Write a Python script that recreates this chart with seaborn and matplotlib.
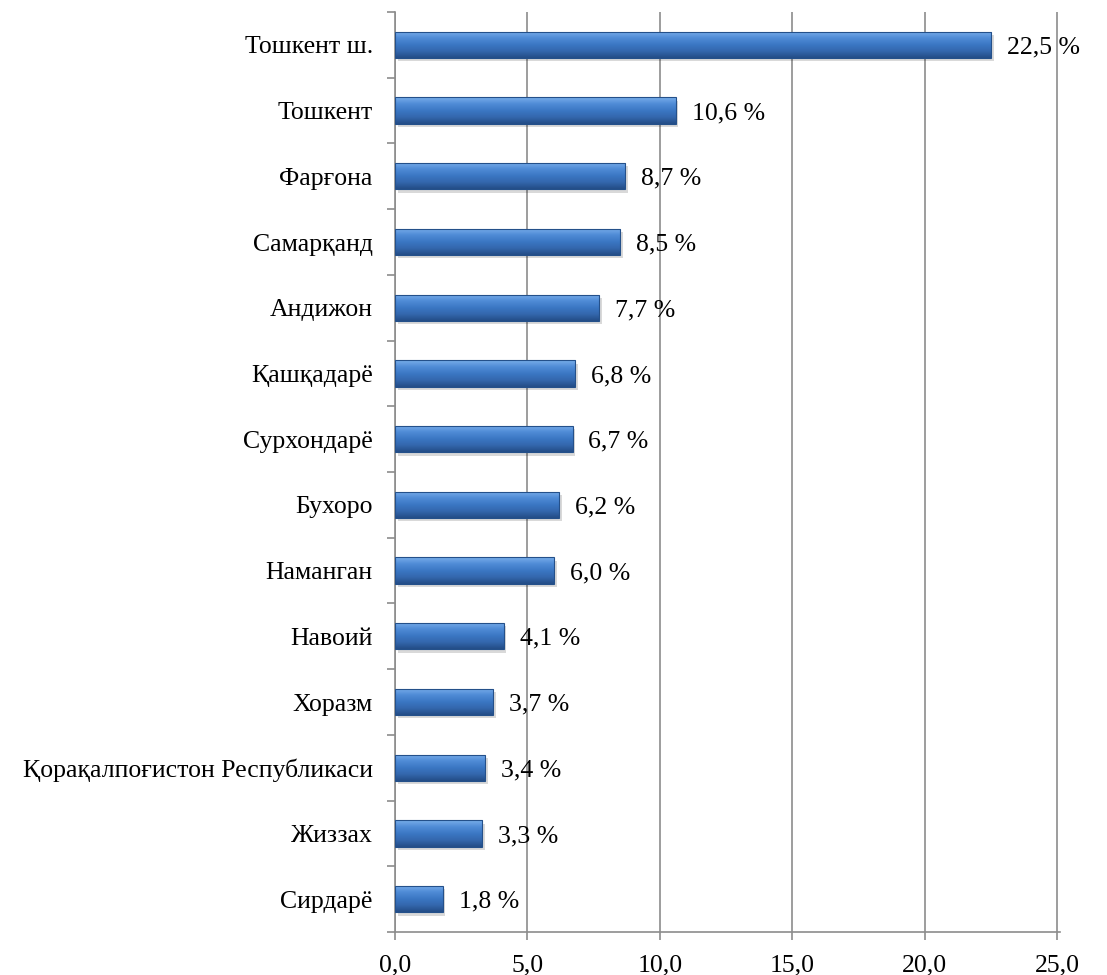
import numpy as np
import pandas as pd
import seaborn as sns
import matplotlib.pyplot as plt
from matplotlib.colors import LinearSegmentedColormap

# data
regions = [
    "Тошкент ш.", "Тошкент", "Фарғона", "Самарқанд", "Андижон", "Қашқадарё",
    "Сурхондарё", "Бухоро", "Наманган", "Навоий", "Хоразм",
    "Қорақалпоғистон Республикаси", "Жиззах", "Сирдарё",
]
shares = [22.5, 10.6, 8.7, 8.5, 7.7, 6.8, 6.7, 6.2, 6.0, 4.1, 3.7, 3.4, 3.3, 1.8]
xticks = [0, 5, 10, 15, 20, 25]

df = pd.DataFrame({"region": regions, "share": shares})

sns.set_theme(style="white")
plt.rcParams["font.family"] = ["Liberation Serif", "DejaVu Serif"]

fig = plt.figure(figsize=(11.07, 9.75), dpi=100)
ax = fig.add_axes([395 / 1107, 1 - 932 / 975, (1060 - 395) / 1107, (932 - 12) / 975])

sns.barplot(data=df, x="share", y="region", orient="h", color="#3b73bd",
            width=0.4, edgecolor="#24508a", linewidth=0.8, ax=ax, zorder=3)

# gradient fill on each bar (rough imitation of the bevelled bars)
cmap = LinearSegmentedColormap.from_list(
    "bevel", ["#79aeeb", "#4f8bd6", "#3b77c4", "#3467ad", "#234d86"])
grad = np.linspace(0, 1, 64).reshape(-1, 1)
for p in ax.patches:
    x0, y0 = p.get_x(), p.get_y()
    w, h = p.get_width(), p.get_height()
    # soft shadow below/right
    ax.add_patch(plt.Rectangle((x0 + 0.1, y0 + 0.05), w, h, color="#000000",
                               alpha=0.15, zorder=2, lw=0))
    im = ax.imshow(grad, cmap=cmap, aspect="auto", extent=(x0, x0 + w, y0 + h, y0),
                   zorder=4, interpolation="bicubic")
    im.set_clip_path(p)
    p.set_zorder(5)
    p.set_facecolor("none")

for i, v in enumerate(shares):
    ax.text(v + 0.6, i + 0.04, f"{v:.1f} %".replace(".", ","), va="center", ha="left",
            fontsize=18.5, color="black", zorder=6)

ax.set_xlim(0, 25.1)
ax.set_ylim(len(regions) - 0.5, -0.5)
ax.set_xticks(xticks)
ax.set_xticklabels([f"{t:.1f}".replace(".", ",") for t in xticks], fontsize=18.5,
                   color="black")
ax.set_yticks(range(len(regions)))
ax.set_yticklabels(regions, fontsize=18.5, color="black")
ax.set_xlabel("")
ax.set_ylabel("")

ax.grid(axis="x", color="#8c8c8c", linewidth=1.2, zorder=0)
ax.set_axisbelow(True)
for s in ["top", "right"]:
    ax.spines[s].set_visible(False)
for s in ["left", "bottom"]:
    ax.spines[s].set_color("#8c8c8c")
    ax.spines[s].set_linewidth(1.2)

# category ticks sit between bars, labels centered on bars
ax.set_yticks(np.arange(-0.5, len(regions), 1), minor=True)
ax.tick_params(axis="y", which="major", length=0, pad=16)
ax.tick_params(axis="y", which="minor", length=6, color="#8c8c8c", width=1.2, left=True)
ax.tick_params(axis="x", which="major", length=6, color="#8c8c8c", width=1.2,
               bottom=True, pad=10)

fig.savefig("out.png", dpi=100)
